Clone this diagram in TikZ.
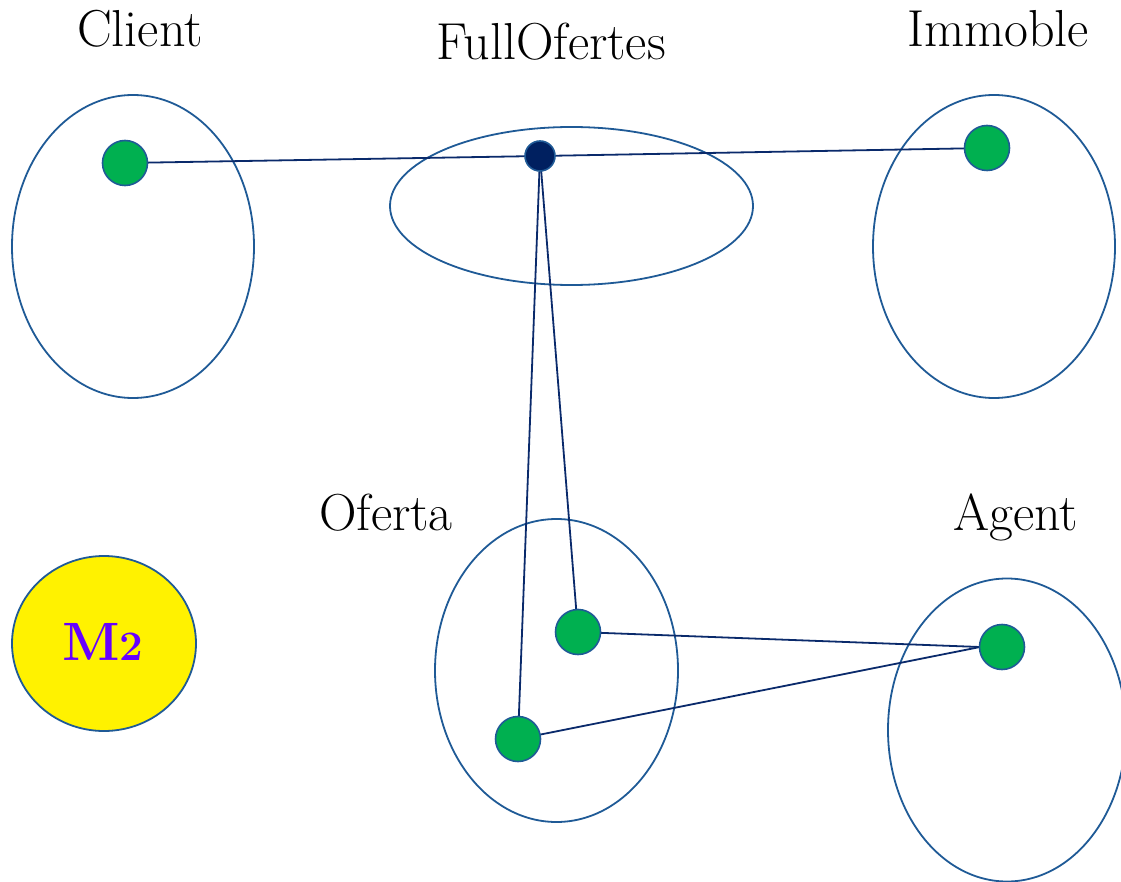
\documentclass[tikz,border=0pt]{standalone}
\usetikzlibrary{shapes.geometric}
\definecolor{rim}{HTML}{1F5A96}
\definecolor{link}{HTML}{0A2A6B}
\definecolor{dotgreen}{HTML}{00B050}
\definecolor{dotnavy}{HTML}{002060}
\definecolor{mpurple}{HTML}{6600FF}
\begin{document}
\begin{tikzpicture}[x=1pt,y=-1pt,
  setbox/.style={ellipse, draw=rim, line width=1.8pt, inner sep=0pt},
  member/.style={circle, draw=rim, line width=1.6pt, fill=dotgreen, minimum size=45pt, inner sep=0pt},
  hub/.style={circle, draw=rim, line width=1.6pt, fill=dotnavy, minimum size=30pt, inner sep=0pt},
  tag/.style={font=\fontsize{52}{54}\selectfont, anchor=base, inner sep=0pt},
  link/.style={draw=link, line width=1.8pt}]
\useasboundingbox (0,0) rectangle (1121,882);

% sets
\node[setbox, minimum width=242pt, minimum height=303pt] (client) at (133,246.5) {};
\node[setbox, minimum width=363pt, minimum height=158pt] (full) at (571.5,206) {};
\node[setbox, minimum width=242pt, minimum height=303pt] (immoble) at (994,246.5) {};
\node[setbox, minimum width=243pt, minimum height=303pt] (oferta) at (556.5,670.5) {};
\node[setbox, minimum width=238pt, minimum height=303pt] (agent) at (1007,730) {};

% set names
\node[tag] (lclient) at (140,47) {Client};
\node[tag] (lfull) at (551,60) {FullOfertes};
\node[tag] (limmoble) at (998,47) {Immoble};
\node[tag] (loferta) at (386,530) {Oferta};
\node[tag] (lagent) at (1016,530) {Agent};

% model badge
\node[ellipse, draw=rim, line width=1.8pt, fill=yellow, minimum width=184pt, minimum height=175pt, inner sep=0pt,
      text=mpurple, font=\bfseries] (m2) at (104,643.5) {};
\node[text=mpurple, font=\bfseries, anchor=base, inner sep=0pt] (m2t) at (103,660)
  {\fontsize{54}{56}\selectfont M\fontsize{42}{44}\selectfont 2};

% elements
\coordinate (cd) at (125,163);
\coordinate (id) at (987,148);
\coordinate (hd) at (540,156);
\coordinate (o1) at (578,632);
\coordinate (o2) at (518,739);
\coordinate (ad) at (1002,647);
\coordinate (adw) at (980,647);

% connectors
\path[link] (cd) -- (hd);
\path[link] (hd) -- (id);
\path[link] (hd) -- (o1);
\path[link] (hd) -- (o2);
\path[link] (o1) -- (adw);
\path[link] (o2) -- (adw);

\node[member] (ncd) at (cd) {};
\node[member] (nid) at (id) {};
\node[hub] (nhd) at (hd) {};
\node[member] (no1) at (o1) {};
\node[member] (no2) at (o2) {};
\node[member] (nad) at (ad) {};
\end{tikzpicture}
\end{document}
